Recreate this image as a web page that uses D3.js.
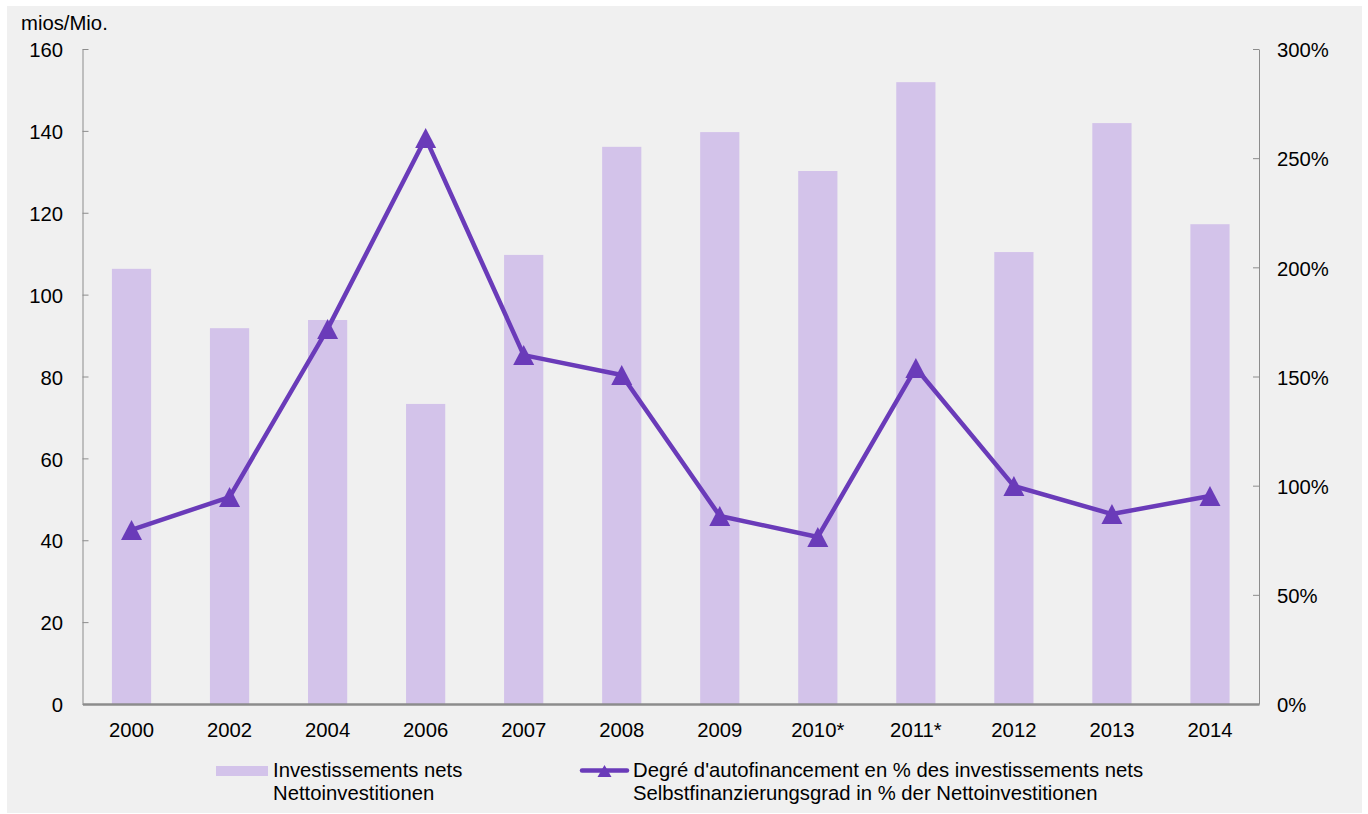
<!DOCTYPE html>
<html>
<head>
<meta charset="utf-8">
<script src="https://cdn.jsdelivr.net/npm/d3@7"></script>
<style>
	body { margin: 0; background: #fff; }
	svg { display: block; font-family: "Liberation Sans", Arial, sans-serif; }
	.axis text { font-size: 20.3px; fill: #000; }
	.axis path, .axis line { stroke: #8c8c8c; }
	.legend--text { font-size: 20.3px; fill: #000; }
</style>
</head>
<body>
<div id="graphic"></div>
<script>
// data
let years = ['2000', '2002', '2004', '2006', '2007', '2008', '2009', '2010*', '2011*', '2012', '2013', '2014'];
let netInvest = [106.3, 91.8, 93.8, 73.3, 109.7, 136.1, 139.7, 130.2, 151.9, 110.4, 141.9, 117.2];
let selfFinance = [79.7, 94.8, 171.8, 259.2, 159.8, 150.7, 86.1, 76.5, 153.9, 99.8, 87.0, 95.3];
let leftTicks = [0, 20, 40, 60, 80, 100, 120, 140, 160];
let rightTicks = [0, 50, 100, 150, 200, 250, 300];
let legendLabels = [
	['Investissements nets', 'Nettoinvestitionen'],
	["Degré d'autofinancement en % des investissements nets", 'Selbstfinanzierungsgrad in % der Nettoinvestitionen']
];

const barColour = '#d3c3ea';
const lineColour = '#6a3bb9';

const width = 1368, height = 814;
const margin = { top: 49, right: 109, bottom: 110, left: 82.5 };
const chart_width = width - margin.left - margin.right;
const chart_height = height - margin.top - margin.bottom;

const svg = d3.select('#graphic')
	.append('svg')
	.attr('width', width)
	.attr('height', height);

// grey panel
svg.append('rect')
	.attr('x', 7).attr('y', 6)
	.attr('width', 1355).attr('height', 807)
	.attr('fill', '#f0f0f0');

const g = svg.append('g')
	.attr('transform', 'translate(' + margin.left + ',' + margin.top + ')');

const x = d3.scaleBand()
	.domain(years)
	.range([0, chart_width])
	.paddingInner(0.6)
	.paddingOuter(0.3);

const xPoint = (d) => x(d) + x.bandwidth() / 2;

const y = d3.scaleLinear().domain([0, 160]).range([chart_height, 0]);
const y2 = d3.scaleLinear().domain([0, 300]).range([chart_height, 0]);

// bars
g.append('g')
	.selectAll('rect')
	.data(years)
	.join('rect')
	.attr('x', (d) => x(d))
	.attr('width', x.bandwidth())
	.attr('y', (d, i) => y(netInvest[i]))
	.attr('height', (d, i) => chart_height - y(netInvest[i]))
	.attr('fill', barColour);

// left axis
g.append('g')
	.attr('class', 'y axis')
	.call(d3.axisLeft(y).tickValues(leftTicks).tickSize(-6).tickSizeOuter(0).tickPadding(19.5))
	.call((s) => s.selectAll('text').attr('dy', '0.38em'));

// right axis
g.append('g')
	.attr('class', 'y2 axis')
	.attr('transform', 'translate(' + chart_width + ',0)')
	.call(d3.axisRight(y2).tickValues(rightTicks).tickSize(-6).tickSizeOuter(0).tickPadding(18)
		.tickFormat((d) => d + '%'))
	.call((s) => s.selectAll('text').attr('dy', '0.38em'));

// bottom axis
g.append('g')
	.attr('class', 'x axis')
	.attr('transform', 'translate(0,' + chart_height + ')')
	.call(d3.axisBottom(x).tickSize(0).tickPadding(18.5))
	.call((s) => s.select('.domain').attr('stroke-width', 2.5));

// line
const line = d3.line()
	.x((d, i) => xPoint(years[i]))
	.y((d) => y2(d));

g.append('path')
	.datum(selfFinance)
	.attr('d', line)
	.attr('fill', 'none')
	.attr('stroke', lineColour)
	.attr('stroke-width', 4.5)
	.attr('stroke-linejoin', 'round');

const tri = 'M0,-10L10.5,10L-10.5,10Z';

g.append('g')
	.selectAll('path')
	.data(selfFinance)
	.join('path')
	.attr('d', tri)
	.attr('transform', (d, i) => 'translate(' + xPoint(years[i]) + ',' + y2(d) + ')')
	.attr('fill', lineColour);

// unit label
svg.append('text')
	.attr('x', 21)
	.attr('y', 30)
	.attr('class', 'legend--text')
	.text('mios/Mio.');

// legend
const legend = svg.append('g');

legend.append('rect')
	.attr('x', 216).attr('y', 766)
	.attr('width', 52).attr('height', 10)
	.attr('fill', barColour);

legend.append('line')
	.attr('x1', 582).attr('x2', 627)
	.attr('y1', 770.5).attr('y2', 770.5)
	.attr('stroke', lineColour)
	.attr('stroke-width', 4.5)
	.attr('stroke-linecap', 'round');

legend.append('path')
	.attr('d', 'M0,-6L7,6L-7,6Z')
	.attr('transform', 'translate(604.5,771)')
	.attr('fill', lineColour);

const legendX = [273, 633];
legendLabels.forEach((lines, k) => {
	const t = legend.append('text')
		.attr('class', 'legend--text')
		.attr('x', legendX[k])
		.attr('y', 777);
	lines.forEach((l, j) => {
		t.append('tspan')
			.attr('x', legendX[k])
			.attr('dy', j === 0 ? 0 : 23)
			.text(l);
	});
});
</script>
</body>
</html>
